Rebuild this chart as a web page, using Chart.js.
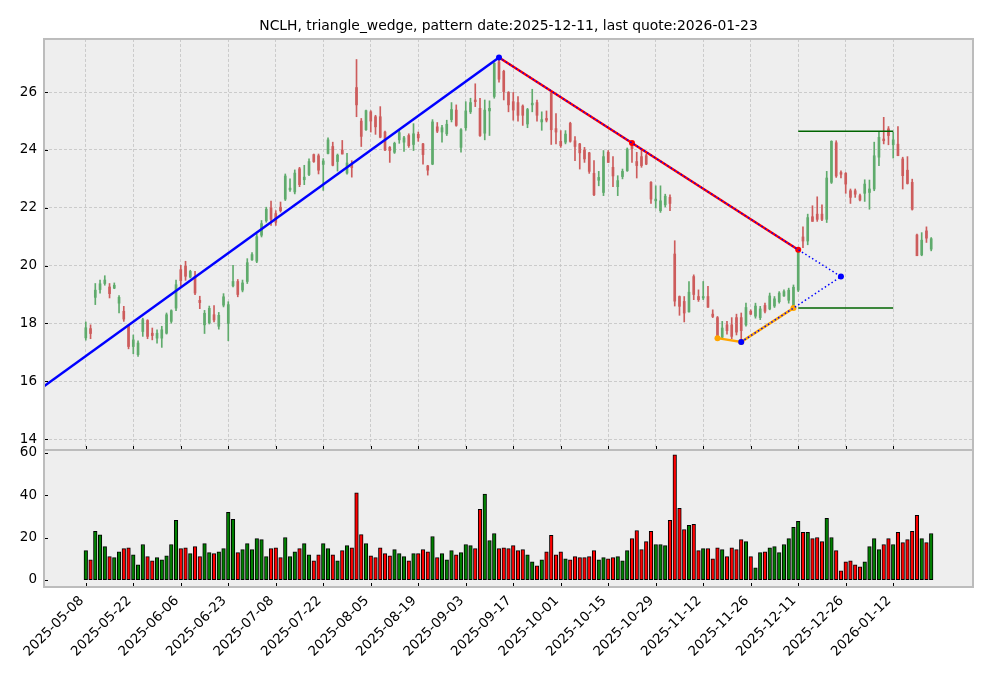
<!DOCTYPE html>
<html lang="en">
<head>
<meta charset="UTF-8">
<title>NCLH triangle_wedge</title>
<script src="https://cdn.jsdelivr.net/npm/chart.js"></script>
<style>
  body { margin: 0; background: #fff; }
  #wrap { position: relative; width: 993px; height: 678px; }
  #priceChart { position: absolute; left: 0; top: 0; }
  #volChart { position: absolute; left: 0; top: 430px; }
</style>
</head>
<body>
<div id="wrap">
  <canvas id="volChart" width="993" height="248"></canvas>
  <canvas id="priceChart" width="993" height="453"></canvas>
</div>
<script>
// daily bars, index 0 = 2025-05-08 ... 178 = 2026-01-23
const opens = [17.50,17.82,18.90,19.17,19.38,19.26,19.22,18.70,18.42,17.93,17.20,16.92,17.72,18.10,17.66,17.49,17.49,17.66,18.07,18.53,
  19.86,19.98,19.60,19.63,18.80,17.95,18.02,18.30,17.90,18.63,18.00,19.30,19.45,19.15,19.45,20.20,20.15,21.05,21.55,22.00,
  21.80,22.02,22.30,22.62,22.55,23.35,22.97,23.15,23.84,23.80,23.50,23.88,24.12,23.60,24.00,23.20,23.50,26.16,25.00,24.70,
  25.32,25.15,25.15,24.62,24.09,23.92,24.35,24.27,24.50,24.19,24.54,24.21,23.45,23.51,24.80,24.62,24.56,25.05,25.38,24.09,
  24.77,25.32,25.73,25.44,24.58,25.35,25.85,27.05,26.72,25.99,25.67,25.64,25.52,24.90,25.56,25.64,24.97,25.09,25.97,24.74,
  24.30,24.27,24.92,24.32,24.21,24.00,23.90,23.19,22.95,22.53,23.92,23.40,22.73,23.08,23.28,24.15,23.60,23.77,23.80,22.88,
  22.24,21.90,22.10,22.36,20.40,18.93,18.76,18.40,19.62,18.93,18.88,18.93,18.32,18.20,17.52,17.95,17.95,18.20,18.20,17.95,
  18.42,18.25,18.20,18.62,18.50,18.60,18.75,18.95,18.80,18.60,19.15,20.99,20.85,21.69,21.78,21.78,21.60,22.88,24.25,23.22,
  23.19,22.59,22.59,22.42,22.50,22.53,22.65,23.75,24.38,24.73,24.18,24.20,23.69,23.30,22.88,21.06,20.37,21.20,20.57];
const highs = [18.05,17.95,19.38,19.50,19.65,19.38,19.40,18.96,18.59,17.95,17.60,17.40,18.18,18.13,17.84,17.78,17.90,18.36,18.47,19.50,
  20.01,20.15,19.84,19.80,18.94,18.45,18.60,18.62,18.38,19.03,18.75,20.01,19.52,19.50,20.24,20.45,21.10,21.56,22.02,22.23,
  21.90,22.20,23.17,23.00,23.31,23.40,23.47,23.69,23.86,23.86,23.70,24.42,24.27,23.86,24.33,23.88,23.63,27.13,25.09,25.38,
  25.36,25.20,25.50,24.65,24.12,24.27,24.68,24.47,24.56,24.91,24.62,24.23,23.47,25.05,24.95,24.85,25.03,25.64,25.56,24.74,
  25.67,25.79,26.29,25.79,25.73,25.70,27.02,27.20,26.76,26.02,25.99,25.85,25.56,25.44,26.10,25.73,25.32,25.35,25.99,25.26,
  24.67,24.67,24.96,24.46,24.23,24.09,23.92,23.63,23.26,23.98,23.98,23.77,23.11,23.34,24.07,24.30,23.92,24.03,23.86,22.91,
  22.76,22.76,22.47,22.45,20.86,18.95,18.93,19.45,19.68,19.16,19.45,19.28,18.47,18.24,18.07,18.07,18.20,18.32,18.36,18.70,
  18.47,18.70,18.59,18.70,19.05,18.93,19.10,19.16,19.22,19.33,20.60,21.34,21.78,22.07,22.38,22.10,23.26,24.32,24.32,23.28,
  23.22,22.65,22.65,22.47,22.97,22.96,24.27,24.61,25.13,24.81,24.61,24.81,23.75,23.77,22.99,21.09,21.14,21.34,20.97];
const lows = [17.42,17.47,18.65,19.05,19.32,18.88,19.20,18.36,18.07,17.12,16.95,16.86,17.55,17.47,17.43,17.32,17.17,17.63,18.01,18.44,
  19.28,19.49,19.57,18.99,18.51,17.65,17.98,18.05,17.80,18.57,17.40,19.26,18.92,19.09,19.38,20.18,20.10,20.99,21.50,21.39,
  21.39,21.85,22.25,22.57,22.48,22.73,22.80,23.11,23.57,23.17,22.60,23.86,23.45,23.27,23.86,23.16,23.06,25.15,24.12,24.68,
  24.62,24.54,24.42,23.98,23.57,23.88,24.23,23.95,24.09,23.98,24.30,23.51,23.13,23.49,24.60,24.27,24.50,24.97,24.82,23.92,
  24.68,25.26,25.50,24.47,24.35,24.50,25.79,26.35,25.73,25.32,25.03,25.00,24.85,24.77,25.32,25.00,24.68,24.97,24.19,24.21,
  24.09,24.21,24.27,23.63,23.34,23.57,23.19,22.42,22.76,22.42,23.57,22.73,22.42,23.00,23.26,23.57,23.03,23.40,23.49,22.15,
  21.99,21.84,22.03,21.90,18.60,18.28,18.05,18.39,18.82,18.76,18.82,18.55,18.20,17.49,17.47,17.63,17.47,17.60,17.36,17.90,
  18.30,18.18,18.13,18.36,18.47,18.55,18.70,18.93,18.70,18.53,19.10,20.62,20.72,21.53,21.53,21.55,21.49,22.84,23.05,23.03,
  22.50,22.15,22.36,22.24,22.22,21.95,22.59,23.46,24.21,24.18,23.72,23.80,22.65,22.82,21.92,20.34,20.34,20.80,20.51];
const closes = [17.85,17.65,19.15,19.37,19.50,19.03,19.32,18.90,18.15,17.20,17.43,17.32,18.13,17.55,17.58,17.66,17.78,18.30,18.44,19.34,
  19.48,19.63,19.80,19.05,18.72,18.35,18.52,18.12,18.28,18.92,18.65,19.45,19.00,19.40,20.10,20.38,21.00,21.45,21.95,21.60,
  21.50,21.90,23.10,22.68,23.20,22.80,23.06,23.60,23.60,23.30,23.62,24.35,23.47,23.82,23.86,23.55,23.39,25.56,24.47,25.36,
  25.00,24.80,24.44,24.00,23.98,24.23,24.60,24.42,24.15,24.56,24.42,23.84,23.30,24.97,24.65,24.77,24.89,25.40,24.85,24.70,
  25.35,25.64,25.67,24.50,25.38,25.44,27.00,26.45,26.02,25.56,25.38,25.20,25.20,25.40,25.62,25.20,25.05,25.03,24.70,24.62,
  24.15,24.55,24.30,24.12,23.90,23.69,23.26,22.45,23.05,23.77,23.57,23.10,22.94,23.26,24.03,24.05,23.46,23.46,23.51,22.30,
  22.30,22.24,22.40,22.15,18.77,18.59,18.36,19.08,19.00,18.82,18.93,18.56,18.24,17.52,17.84,17.75,17.55,17.70,17.75,18.55,
  18.32,18.60,18.50,18.42,18.95,18.85,19.05,19.10,19.15,19.25,20.55,20.85,21.66,21.53,21.60,21.60,23.03,24.30,23.10,23.16,
  22.82,22.36,22.47,22.27,22.82,22.65,23.80,24.44,24.32,24.50,24.35,23.80,23.11,22.84,21.95,20.34,20.88,20.95,20.93];
const volumes = [13.8,9.5,22.9,21.3,15.7,11.0,10.5,13.3,14.8,15.1,11.9,7.1,16.7,11.0,9.0,10.5,9.5,11.4,16.7,28.1,
  14.8,15.2,12.4,15.7,11.0,17.1,12.9,12.4,13.3,14.8,31.9,28.6,12.9,14.3,17.1,14.3,19.5,19.0,11.0,14.8,
  15.2,10.5,20.0,11.0,13.3,14.8,17.1,11.9,9.0,11.9,17.1,14.8,11.9,9.0,13.8,16.2,15.2,41.0,21.4,17.1,
  11.4,10.5,15.2,12.4,11.4,14.3,12.4,11.0,9.0,12.4,12.4,14.3,13.3,20.5,10.5,12.4,9.5,13.8,11.9,12.9,
  16.7,16.2,14.8,33.3,40.5,18.6,21.9,14.8,15.2,14.8,16.2,13.8,14.3,11.9,8.6,6.7,9.5,13.3,21.0,11.9,
  13.3,10.0,9.5,11.0,10.5,10.5,11.0,13.8,9.5,10.5,10.0,10.5,11.0,9.0,13.8,19.5,23.3,14.3,18.1,22.9,
  16.7,16.7,16.2,28.1,59.0,33.8,23.8,25.7,26.2,13.8,14.8,14.8,10.0,15.2,14.3,11.0,15.2,14.3,19.0,18.1,
  11.0,5.7,12.9,13.3,15.2,15.7,12.9,16.7,19.5,24.8,27.6,22.4,22.4,19.5,20.0,18.1,29.0,20.0,13.8,4.3,
  8.6,9.0,7.1,6.2,8.6,15.7,19.5,14.3,16.7,19.5,16.7,22.4,17.6,19.0,22.9,30.5,19.5,17.6,21.9];

const tickLabels = ['2025-05-08','2025-05-22','2025-06-06','2025-06-23','2025-07-08','2025-07-22',
  '2025-08-05','2025-08-19','2025-09-03','2025-09-17','2025-10-01','2025-10-15','2025-10-29',
  '2025-11-12','2025-11-26','2025-12-11','2025-12-26','2026-01-12'];
const tickIdx = [0,10,20,30,40,50,60,70,80,90,100,110,120,130,140,150,160,170];
const priceTicks = [14,16,18,20,22,24,26];
const volTicks = [0,20,40,60];

// pattern lines (bar index, price)
const upTrendX = [-9, 87],            upTrendY = [15.80, 27.20];
const upperX = [87, 115, 150],        upperY = [27.20, 24.24, 20.55];
const lowerX = [133, 138, 149],       lowerY = [17.49, 17.36, 18.53];
const wedgeX = [87, 150, 159, 149, 138], wedgeY = [27.20, 20.55, 19.62, 18.53, 17.36];
const levelX = [150, 170];
const resistY = [24.65, 24.65], supportY = [18.53, 18.53];

const X_MIN = -8.8, X_MAX = 186.8;
const FONT = {family: 'DejaVu Sans', size: 13.5};
const GRID = '#c2c2c2';

const isUp = closes.map((c, i) => c >= opens[i]);
const candleCol = isUp.map(u => u ? '#5fab6c' : '#cd5c5c');
const volCol = isUp.map(u => u ? '#008000' : '#ff0000');
const pts = (xs, ys) => xs.map((x, k) => ({x, y: ys[k]}));

const panel = {
  id: 'panel',
  beforeDraw(chart) {
    const {ctx, chartArea: a} = chart;
    ctx.save();
    ctx.fillStyle = '#eeeeee';
    ctx.fillRect(a.left, a.top, a.right - a.left, a.bottom - a.top);
    ctx.restore();
  },
  afterDraw(chart) {
    const {ctx, chartArea: a, scales} = chart;
    ctx.save();
    ctx.strokeStyle = '#000';
    ctx.lineWidth = 1;
    ctx.beginPath();
    scales.x.ticks.forEach(t => {
      const px = Math.round(scales.x.getPixelForValue(t.value)) + 0.5;
      ctx.moveTo(px, a.bottom); ctx.lineTo(px, a.bottom - 4);
    });
    scales.y.ticks.forEach(t => {
      const py = Math.round(scales.y.getPixelForValue(t.value)) + 0.5;
      ctx.moveTo(a.left, py); ctx.lineTo(a.left + 4, py);
    });
    ctx.stroke();
    ctx.strokeStyle = '#bcbcbc';
    ctx.lineWidth = 2;
    ctx.strokeRect(a.left, a.top, a.right - a.left, a.bottom - a.top);
    ctx.restore();
  }
};

function xScale(showLabels, h) {
  return {
    type: 'linear', min: X_MIN, max: X_MAX, offset: false,
    afterBuildTicks: ax => { ax.ticks = tickIdx.map(v => ({value: v})); },
    afterFit: ax => { ax.height = h; },
    ticks: {display: showLabels, color: '#000', font: FONT, padding: 6, labelOffset: -4,
      minRotation: 45, maxRotation: 45, autoSkip: false,
      callback: (v, i) => tickLabels[i]},
    grid: {offset: false, color: GRID, lineWidth: 0.8, drawTicks: false, drawOnChartArea: !showLabels},
    border: {display: false, dash: [3, 2]}
  };
}
function yScale(min, max, ticks, grid) {
  return {
    min, max,
    afterBuildTicks: ax => { ax.ticks = ticks.map(v => ({value: v})); },
    afterFit: ax => { ax.width = 44; ax.paddingTop = 0; ax.paddingBottom = 0; },
    ticks: {color: '#000', font: FONT, padding: 7},
    grid: {color: GRID, lineWidth: 0.8, drawTicks: false, drawOnChartArea: grid},
    border: {display: false, dash: [3, 2]}
  };
}
const lineDs = (data, color, width, extra) => Object.assign({
  type: 'line', data, borderColor: color, backgroundColor: color, borderWidth: width,
  fill: false, tension: 0, pointRadius: 0, pointBorderWidth: 0, pointHoverRadius: 0
}, extra);

new Chart(document.getElementById('priceChart'), {
  type: 'bar',
  data: {
    datasets: [
      {data: closes.map((_, i) => ({x: i, y: [lows[i], highs[i]]})), backgroundColor: candleCol,
        barThickness: 1, grouped: false, order: 10},
      {data: closes.map((_, i) => ({x: i, y: [opens[i], closes[i]]})), backgroundColor: candleCol,
        barThickness: 2, minBarLength: 1, grouped: false, order: 9},
      lineDs(pts(levelX, resistY), '#006400', 1.5, {order: 6}),
      lineDs(pts(levelX, supportY), '#006400', 1.5, {order: 6}),
      lineDs(pts(upTrendX, upTrendY), '#0000ff', 2.5, {order: 5}),
      lineDs(pts(upperX, upperY), '#ff0000', 2.5, {order: 4, pointRadius: [0, 3, 3]}),
      lineDs(pts(lowerX, lowerY), '#ffa500', 2.5, {order: 4, pointRadius: 3}),
      lineDs(pts(wedgeX, wedgeY), '#0000ff', 1.5, {order: 2, borderDash: [1.5, 2.5], pointRadius: [3, 0, 3, 0, 3]})
    ]
  },
  options: {
    responsive: false, animation: false, devicePixelRatio: 1,
    layout: {padding: {left: 0, right: 20, top: 0, bottom: 0}},
    plugins: {
      legend: {display: false}, tooltip: {enabled: false},
      title: {display: true, fullSize: false,
        text: 'NCLH, triangle_wedge, pattern date:2025-12-11, last quote:2026-01-23',
        color: '#000', font: {family: 'DejaVu Sans', size: 13.9, weight: 'normal'},
        padding: {top: 17.7, bottom: 4.6}}
    },
    scales: {x: xScale(false, 0), y: yScale(13.62, 27.84, priceTicks, true)}
  },
  plugins: [panel]
});

new Chart(document.getElementById('volChart'), {
  type: 'bar',
  data: {
    datasets: [{
      data: volumes.map((v, i) => ({x: i, y: v})), backgroundColor: volCol,
      borderColor: '#000', borderWidth: 1, borderSkipped: false, barThickness: 3.6
    }]
  },
  options: {
    responsive: false, animation: false, devicePixelRatio: 1,
    layout: {padding: {left: 0, right: 20, top: 19, bottom: 0}},
    plugins: {legend: {display: false}, tooltip: {enabled: false}},
    scales: {x: xScale(true, 91), y: yScale(-3.3, 61.7, volTicks, false)}
  },
  plugins: [panel]
});
</script>
</body>
</html>
